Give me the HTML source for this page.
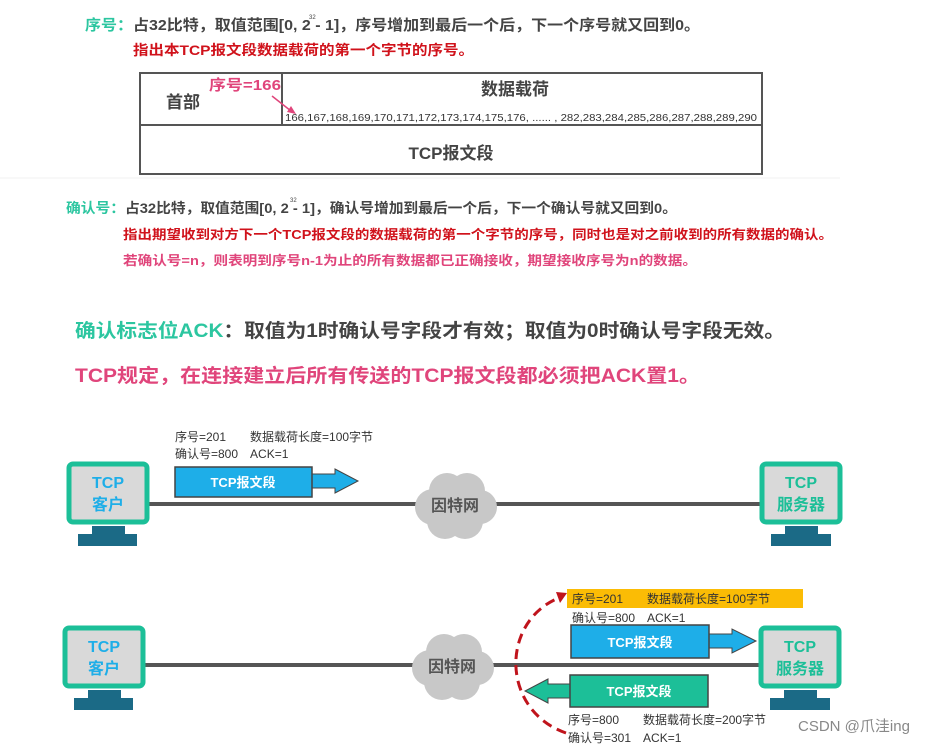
<!DOCTYPE html>
<html><head><meta charset="utf-8"><style>
html,body{margin:0;padding:0;background:#fff;}
svg{display:block;}
text{font-family:"Liberation Sans","Noto Sans CJK SC",sans-serif;}
</style></head><body>
<svg width="951" height="748" viewBox="0 0 951 748" xmlns="http://www.w3.org/2000/svg">
<defs>
<g id="cloud"><circle cx="-22" cy="2" r="18"/><circle cx="-8" cy="-14" r="18"/><circle cx="12" cy="-14" r="18"/><circle cx="25" cy="2" r="17"/><circle cx="10" cy="16" r="18"/><circle cx="-10" cy="16" r="18"/><circle cx="0" cy="0" r="22"/></g>
</defs>
<!-- top text -->
<text x="85" y="30" font-size="15" font-weight="bold" textLength="615" lengthAdjust="spacingAndGlyphs"><tspan fill="#2cc6a0">序号：</tspan><tspan fill="#444">占32比特，取值范围[0, 2  - 1]，序号增加到最后一个后，下一个序号就又回到0。</tspan></text>
<text x="309" y="19" font-size="6" fill="#444">32</text>
<text x="133" y="55" font-size="14" font-weight="bold" fill="#d0121b" textLength="341" lengthAdjust="spacingAndGlyphs">指出本TCP报文段数据载荷的第一个字节的序号。</text>
<!-- table -->
<rect x="140" y="73" width="622" height="101" fill="#fff" stroke="#555" stroke-width="2"/>
<line x1="140" y1="125" x2="762" y2="125" stroke="#555" stroke-width="2"/>
<line x1="282" y1="73" x2="282" y2="125" stroke="#555" stroke-width="2"/>
<text x="166" y="108" font-size="17" font-weight="bold" fill="#444">首部</text>
<text x="209" y="90" font-size="15" font-weight="bold" fill="#e0457b" textLength="72" lengthAdjust="spacingAndGlyphs">序号=166</text>
<line x1="272" y1="96" x2="291" y2="111" stroke="#e0457b" stroke-width="1.5"/>
<polygon points="296,114 287,112 291,106" fill="#e0457b"/>
<text x="515" y="95" font-size="17" font-weight="bold" fill="#444" text-anchor="middle">数据载荷</text>
<text x="285" y="121" font-size="10" fill="#333" textLength="472" lengthAdjust="spacingAndGlyphs">166,167,168,169,170,171,172,173,174,175,176, ...... , 282,283,284,285,286,287,288,289,290</text>
<text x="451" y="159" font-size="17" font-weight="bold" fill="#444" text-anchor="middle">TCP报文段</text>
<line x1="0" y1="178" x2="840" y2="178" stroke="#f0f0f0" stroke-width="1"/>
<!-- ack number text -->
<text x="66" y="213" font-size="14" font-weight="bold" textLength="611" lengthAdjust="spacingAndGlyphs"><tspan fill="#2cc6a0">确认号：</tspan><tspan fill="#444">占32比特，取值范围[0, 2  - 1]，确认号增加到最后一个后，下一个确认号就又回到0。</tspan></text>
<text x="290" y="202" font-size="6" fill="#444">32</text>
<text x="123" y="239" font-size="13" font-weight="bold" fill="#d0121b" textLength="710" lengthAdjust="spacingAndGlyphs">指出期望收到对方下一个TCP报文段的数据载荷的第一个字节的序号，同时也是对之前收到的所有数据的确认。</text>
<text x="123" y="265" font-size="13" font-weight="bold" fill="#e0457b" textLength="574" lengthAdjust="spacingAndGlyphs">若确认号=n，则表明到序号n-1为止的所有数据都已正确接收，期望接收序号为n的数据。</text>
<text x="75" y="337" font-size="19" font-weight="bold" textLength="710" lengthAdjust="spacingAndGlyphs"><tspan fill="#2cc6a0">确认标志位ACK</tspan><tspan fill="#444">：取值为1时确认号字段才有效；取值为0时确认号字段无效。</tspan></text>
<text x="75" y="382" font-size="19" font-weight="bold" fill="#e0457b" textLength="625" lengthAdjust="spacingAndGlyphs">TCP规定，在连接建立后所有传送的TCP报文段都必须把ACK置1。</text>

<!-- diagram 1 -->
<line x1="148" y1="504" x2="760" y2="504" stroke="#555" stroke-width="4"/>
<g fill="#c8c8c8" transform="translate(455,505)"><use href="#cloud"/></g>
<text x="455" y="511" font-size="16" font-weight="bold" fill="#555" text-anchor="middle">因特网</text>
<rect x="69" y="464" width="78" height="58" rx="4" fill="#d9d9d9" stroke="#1cbf98" stroke-width="5"/>
<rect x="92" y="526" width="33" height="10" fill="#1b6a86"/><rect x="78" y="534" width="59" height="12" fill="#1b6a86"/>
<text x="108" y="488" font-size="16" font-weight="bold" fill="#1eaee8" text-anchor="middle">TCP</text>
<text x="108" y="510" font-size="16" font-weight="bold" fill="#1eaee8" text-anchor="middle">客户</text>
<rect x="762" y="464" width="78" height="58" rx="4" fill="#d9d9d9" stroke="#1cbf98" stroke-width="5"/>
<rect x="785" y="526" width="33" height="10" fill="#1b6a86"/><rect x="771" y="534" width="60" height="12" fill="#1b6a86"/>
<text x="801" y="488" font-size="16" font-weight="bold" fill="#1cbf98" text-anchor="middle">TCP</text>
<text x="801" y="510" font-size="16" font-weight="bold" fill="#1cbf98" text-anchor="middle">服务器</text>
<text x="175" y="441" font-size="12" fill="#333">序号=201　　数据载荷长度=100字节</text>
<text x="175" y="458" font-size="12" fill="#333">确认号=800　ACK=1</text>
<polygon points="312,474 335,474 335,469 358,481 335,493 335,488 312,488" fill="#1eaee8" stroke="#444" stroke-width="1"/>
<rect x="175" y="467" width="137" height="30" fill="#1eaee8" stroke="#444" stroke-width="1.5"/>
<text x="243" y="487" font-size="13" font-weight="bold" fill="#fff" text-anchor="middle">TCP报文段</text>

<!-- diagram 2 -->
<line x1="145" y1="665" x2="759" y2="665" stroke="#555" stroke-width="4"/>
<g fill="#c8c8c8" transform="translate(452,666)"><use href="#cloud"/></g>
<text x="452" y="672" font-size="16" font-weight="bold" fill="#555" text-anchor="middle">因特网</text>
<rect x="65" y="628" width="78" height="58" rx="4" fill="#d9d9d9" stroke="#1cbf98" stroke-width="5"/>
<rect x="88" y="690" width="33" height="10" fill="#1b6a86"/><rect x="74" y="698" width="59" height="12" fill="#1b6a86"/>
<text x="104" y="652" font-size="16" font-weight="bold" fill="#1eaee8" text-anchor="middle">TCP</text>
<text x="104" y="674" font-size="16" font-weight="bold" fill="#1eaee8" text-anchor="middle">客户</text>
<rect x="761" y="628" width="78" height="58" rx="4" fill="#d9d9d9" stroke="#1cbf98" stroke-width="5"/>
<rect x="784" y="690" width="33" height="10" fill="#1b6a86"/><rect x="770" y="698" width="60" height="12" fill="#1b6a86"/>
<text x="800" y="652" font-size="16" font-weight="bold" fill="#1cbf98" text-anchor="middle">TCP</text>
<text x="800" y="674" font-size="16" font-weight="bold" fill="#1cbf98" text-anchor="middle">服务器</text>
<rect x="567" y="589" width="236" height="19" fill="#fbbc05"/>
<text x="572" y="603" font-size="12" fill="#333">序号=201　　数据载荷长度=100字节</text>
<text x="572" y="622" font-size="12" fill="#333">确认号=800　ACK=1</text>
<polygon points="709,634 732,634 732,629 756,641 732,653 732,648 709,648" fill="#1eaee8" stroke="#444" stroke-width="1"/>
<rect x="571" y="625" width="138" height="33" fill="#1eaee8" stroke="#444" stroke-width="1.5"/>
<text x="640" y="647" font-size="13" font-weight="bold" fill="#fff" text-anchor="middle">TCP报文段</text>
<polygon points="570,684 548,684 548,679 525,691 548,703 548,698 570,698" fill="#1cbf98" stroke="#444" stroke-width="1"/>
<rect x="570" y="675" width="138" height="32" fill="#1cbf98" stroke="#444" stroke-width="1.5"/>
<text x="639" y="696" font-size="13" font-weight="bold" fill="#fff" text-anchor="middle">TCP报文段</text>
<text x="568" y="724" font-size="12" fill="#333">序号=800　　数据载荷长度=200字节</text>
<text x="568" y="742" font-size="12" fill="#333">确认号=301　ACK=1</text>
<path d="M566,733 C500,710 500,620 561,597" fill="none" stroke="#c0141c" stroke-width="3" stroke-dasharray="10,6"/>
<polygon points="567,593 556,592 560,603" fill="#c0141c"/>
<text x="798" y="731" font-size="15" fill="#888">CSDN @爪洼ing</text>
</svg>
</body></html>
